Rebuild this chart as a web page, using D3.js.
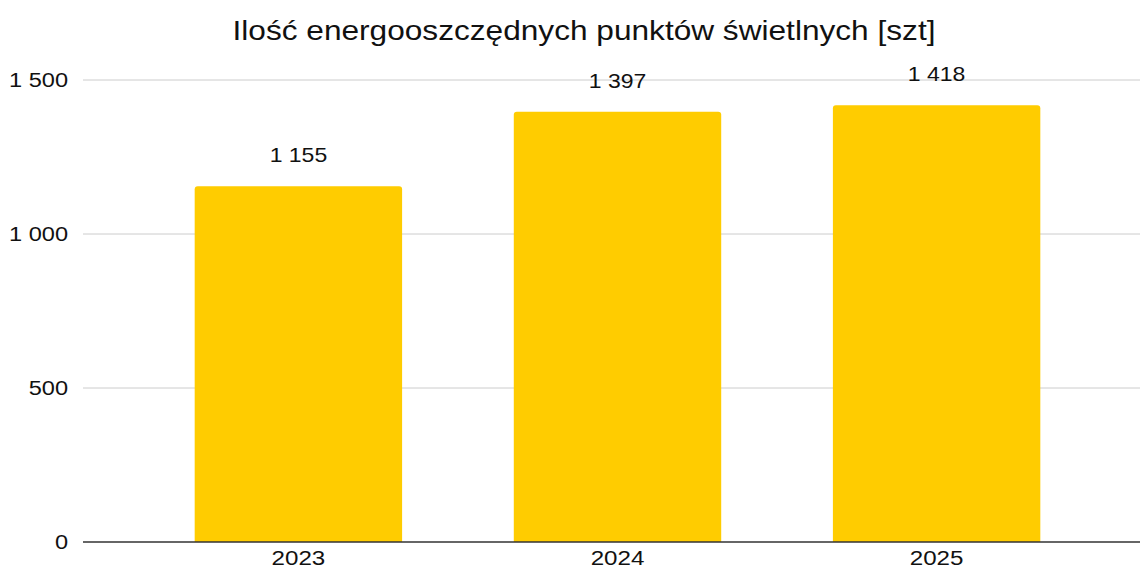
<!DOCTYPE html>
<html>
<head>
<meta charset="utf-8">
<script src="https://cdn.jsdelivr.net/npm/d3@7"></script>
<style>
  body { margin: 0; background: #fff; }
  text { font-family: "Liberation Sans", Arial, sans-serif; fill: #111; }
</style>
</head>
<body>
<div id="chart"></div>
<script>
// Data
const years = ["2023", "2024", "2025"];
const values = [1155, 1397, 1418];
const yTicks = [0, 500, 1000, 1500];
const title = "Ilość energooszczędnych punktów świetlnych [szt]";

const width = 1140;
const height = 569;
const margin = { top: 80, right: 0, bottom: 27, left: 83 };
const stretch = 1.15; // source image is a bit wider than normal text

const fmt = v => d3.format(",")(v).replace(/,/g, " ");

const svg = d3.select("#chart")
    .append("svg")
    .attr("width", width)
    .attr("height", height);

const x = d3.scaleBand()
    .domain(years)
    .range([margin.left, 1152])
    .paddingInner(0.35)
    .paddingOuter(0.35);

const y = d3.scaleLinear()
    .domain([0, 1500])
    .range([height - margin.bottom, margin.top]);

// stretched text helper
function label(sel, tx, ty, str, size, anchor) {
    sel.append("text")
        .attr("transform", `translate(${tx},${ty}) scale(${stretch},1)`)
        .attr("text-anchor", anchor)
        .style("font-size", size + "px")
        .text(str);
}

// Title
label(svg, 584, 40, title, 27.5, "middle");

// Gridlines
svg.selectAll("line.grid")
    .data(yTicks.filter(d => d > 0))
    .enter()
    .append("line")
    .attr("class", "grid")
    .attr("x1", margin.left)
    .attr("x2", width)
    .attr("y1", d => y(d))
    .attr("y2", d => y(d))
    .attr("stroke", "#cccccc")
    .attr("stroke-width", 1);

// Y tick labels
yTicks.forEach(t => label(svg, 68, y(t) + 7, fmt(t), 20.5, "end"));

// Bars (rounded top corners)
const r = 3;
svg.selectAll("path.bar")
    .data(values)
    .enter()
    .append("path")
    .attr("class", "bar")
    .attr("fill", "#FFCC00")
    .attr("d", (d, i) => {
        const x0 = x(years[i]), x1 = x0 + x.bandwidth();
        const y0 = y(0), y1 = y(d);
        return `M${x0},${y0}V${y1 + r}Q${x0},${y1} ${x0 + r},${y1}H${x1 - r}Q${x1},${y1} ${x1},${y1 + r}V${y0}Z`;
    });

// Value labels
values.forEach((v, i) => label(svg, x(years[i]) + x.bandwidth() / 2, y(v) - 24, fmt(v), 20, "middle"));

// Baseline
svg.append("line")
    .attr("x1", margin.left)
    .attr("x2", width)
    .attr("y1", y(0))
    .attr("y2", y(0))
    .attr("stroke", "#333")
    .attr("stroke-width", 1.5);

// Category labels
years.forEach(c => label(svg, x(c) + x.bandwidth() / 2, 565, c, 21, "middle"));
</script>
</body>
</html>
